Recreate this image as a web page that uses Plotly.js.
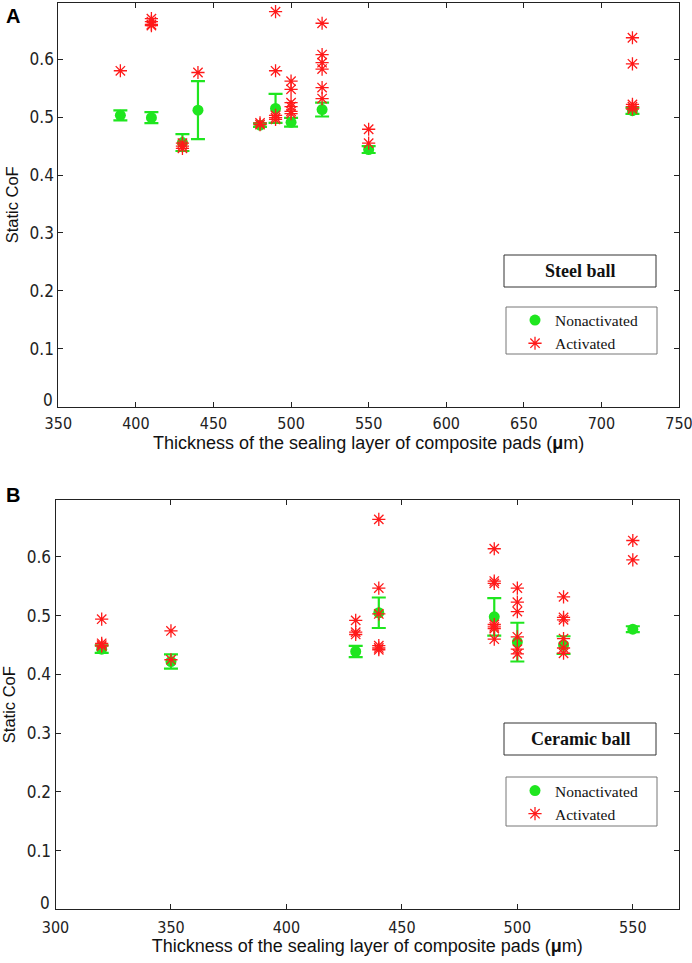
<!DOCTYPE html>
<html>
<head>
<meta charset="utf-8">
<script src="https://cdn.plot.ly/plotly-3.0.1.min.js"></script>
<style>html,body{margin:0;padding:0;background:#fff;}#chart{width:692px;height:963px;}</style>
</head>
<body>
<div id="chart"></div>
<script>
// ---------- Panel A: Steel ball ----------
const steelNonX   = [390, 410, 430, 440, 480, 490, 500, 520, 550, 720];
const steelNonY   = [0.503, 0.499, 0.456, 0.512, 0.486, 0.515, 0.491, 0.513, 0.444, 0.511];
const steelNonErr = [0.0085, 0.0095, 0.0145, 0.050, 0.003, 0.025, 0.0075, 0.012, 0.006, 0.0055];

const steelActX = [390,
  410, 410, 410, 410,
  430, 430, 430,
  440,
  480, 480,
  490, 490, 490, 490, 490,
  500, 500, 500, 500, 500, 500,
  520, 520, 520, 520, 520, 520,
  550, 550,
  720, 720, 720, 720, 720];
const steelActY = [0.580,
  0.670, 0.665, 0.660, 0.658,
  0.455, 0.450, 0.446,
  0.577,
  0.490, 0.487,
  0.682, 0.580, 0.503, 0.499, 0.496,
  0.562, 0.548, 0.525, 0.518, 0.510, 0.506,
  0.662, 0.608, 0.594, 0.583, 0.551, 0.532,
  0.479, 0.455,
  0.637, 0.592, 0.522, 0.518, 0.514];

// ---------- Panel B: Ceramic ball ----------
const ceramNonX   = [320, 350, 430, 440, 490, 500, 520, 550];
const ceramNonY   = [0.443, 0.422, 0.439, 0.505, 0.498, 0.455, 0.450, 0.477];
const ceramNonErr = [0.0065, 0.012, 0.0095, 0.026, 0.032, 0.033, 0.015, 0.005];

const ceramActX = [320, 320, 320, 320,
  350, 350,
  430, 430, 430,
  440, 440, 440, 440, 440, 440,
  490, 490, 490, 490, 490, 490, 490,
  500, 500, 500, 500, 500, 500,
  520, 520, 520, 520, 520, 520,
  550, 550];
const ceramActY = [0.494, 0.453, 0.450, 0.448,
  0.474, 0.425,
  0.492, 0.472, 0.468,
  0.664, 0.547, 0.503, 0.449, 0.445, 0.442,
  0.614, 0.559, 0.555, 0.485, 0.481, 0.478, 0.460,
  0.547, 0.523, 0.507, 0.464, 0.443, 0.435,
  0.532, 0.497, 0.493, 0.461, 0.445, 0.436,
  0.628, 0.595];

const yTicks = [0, 0.1, 0.2, 0.3, 0.4, 0.5, 0.6];
const yTickText = ['', '0.1', '0.2', '0.3', '0.4', '0.5', '0.6']; // "0" drawn as a raised label, as in the original
const xTicksA = [350, 400, 450, 500, 550, 600, 650, 700, 750];
const xTicksB = [300, 350, 400, 450, 500, 550];
const xTitle = 'Thickness of the sealing layer of composite pads (<b>μ</b>m)';

const W = 692, H = 963;
const px = v => v / W;
const py = v => 1 - v / H;

const GREEN = '#1fe61f';
const RED = '#ff1a1a';

function nonTrace(x, y, e, xa, ya, lg) {
  return {
    type: 'scatter', mode: 'markers', x: x, y: y, xaxis: xa, yaxis: ya,
    name: 'Nonactivated', legend: lg, showlegend: true,
    marker: {symbol: 'circle', size: 11, color: GREEN},
    error_y: {type: 'data', array: e, visible: true, color: GREEN, thickness: 2.2, width: 7}
  };
}
function actTrace(x, y, xa, ya, lg) {
  return {
    type: 'scatter', mode: 'markers', x: x, y: y, xaxis: xa, yaxis: ya,
    name: 'Activated', legend: lg, showlegend: true,
    marker: {symbol: 'asterisk-open', size: 11, color: RED, line: {color: RED, width: 1.3}}
  };
}

const data = [
  nonTrace(steelNonX, steelNonY, steelNonErr, 'x', 'y', 'legend'),
  actTrace(steelActX, steelActY, 'x', 'y', 'legend'),
  nonTrace(ceramNonX, ceramNonY, ceramNonErr, 'x2', 'y2', 'legend2'),
  actTrace(ceramActX, ceramActY, 'x2', 'y2', 'legend2')
];

const NARROW = '"Liberation Sans Narrow", "DejaVu Sans Condensed", Arial, sans-serif';
const yTickFont = {family: NARROW, size: 17, color: '#222'};
const xTickFont = {family: NARROW, size: 16, color: '#222'};
const xTitleFont = {family: 'Arial, "Liberation Sans", sans-serif', size: 18, color: '#111'};
const yTitleFont = {family: 'Arial, "Liberation Sans", sans-serif', size: 16.5, color: '#111'};

function xaxis(domain, range, ticks, anchor, lblStandoff, titleStandoff) {
  return {
    domain: domain, range: range, anchor: anchor,
    tickmode: 'array', tickvals: ticks, ticktext: ticks.map(String),
    ticks: 'inside', ticklen: 5, tickcolor: '#222', tickwidth: 1,
    showline: true, linecolor: '#222', linewidth: 1, mirror: 'ticks',
    showgrid: false, zeroline: false, tickfont: xTickFont,
    ticklabelstandoff: lblStandoff, ticklabeloverflow: 'allow',
    title: {text: xTitle, font: xTitleFont, standoff: titleStandoff}
  };
}
function yaxis(domain, anchor) {
  return {
    domain: domain, range: [0, 0.697], anchor: anchor,
    tickmode: 'array', tickvals: yTicks, ticktext: yTickText,
    ticks: 'inside', ticklen: 5, tickcolor: '#222', tickwidth: 1,
    showline: true, linecolor: '#222', linewidth: 1, mirror: 'ticks',
    showgrid: false, zeroline: false, tickfont: yTickFont, ticklabeloverflow: 'allow',
    title: {text: 'Static CoF', font: yTitleFont, standoff: 6}
  };
}

const legendCommon = {
  xanchor: 'left', yanchor: 'top', bgcolor: 'rgba(0,0,0,0)', borderwidth: 0,
  font: {family: '"Liberation Serif", "Times New Roman", serif', size: 15.5, color: '#111'},
  itemwidth: 30, tracegroupgap: 0
};

const boxLine = {color: '#333', width: 1};
const legLine = {color: '#777', width: 1};
const boxFont = {family: '"Liberation Serif", "Times New Roman", serif', size: 18, color: '#111'};

const layout = {
  width: W, height: H,
  margin: {l: 0, r: 0, t: 0, b: 0},
  paper_bgcolor: '#fff', plot_bgcolor: '#fff',
  showlegend: true,
  xaxis: xaxis([px(58.3), px(679)], [350, 750], xTicksA, 'y', 2, 0),
  yaxis: yaxis([py(406.7), py(3)], 'x'),
  xaxis2: xaxis([px(55.5), px(679)], [300, 570], xTicksB, 'y2', 3, 3),
  yaxis2: yaxis([py(909.3), py(500)], 'x2'),
  legend: Object.assign({x: px(515), y: py(303.5)}, legendCommon),
  legend2: Object.assign({x: px(515), y: py(774)}, legendCommon),
  shapes: [
    {type: 'rect', xref: 'paper', yref: 'paper', x0: px(504), x1: px(656), y0: py(255), y1: py(287), line: boxLine, fillcolor: '#fff', layer: 'below'},
    {type: 'rect', xref: 'paper', yref: 'paper', x0: px(506), x1: px(657), y0: py(307), y1: py(354), line: legLine, fillcolor: '#fff', layer: 'below'},
    {type: 'rect', xref: 'paper', yref: 'paper', x0: px(504), x1: px(656), y0: py(723), y1: py(755), line: boxLine, fillcolor: '#fff', layer: 'below'},
    {type: 'rect', xref: 'paper', yref: 'paper', x0: px(506), x1: px(657), y0: py(777), y1: py(826), line: legLine, fillcolor: '#fff', layer: 'below'}
  ],
  annotations: [
    {text: '<b>Steel ball</b>', xref: 'paper', yref: 'paper', x: px(580), y: py(271), showarrow: false, xanchor: 'center', yanchor: 'middle', font: boxFont},
    {text: '<b>Ceramic ball</b>', xref: 'paper', yref: 'paper', x: px(580), y: py(739), showarrow: false, xanchor: 'center', yanchor: 'middle', font: boxFont},
    {text: '0', xref: 'paper', yref: 'paper', x: px(54), y: py(400), showarrow: false, xanchor: 'right', yanchor: 'middle',
     font: yTickFont, borderpad: 0},
    {text: '0', xref: 'paper', yref: 'paper', x: px(51), y: py(903), showarrow: false, xanchor: 'right', yanchor: 'middle',
     font: yTickFont, borderpad: 0},
    {text: '<b>A</b>', xref: 'paper', yref: 'paper', x: px(4), y: py(16), showarrow: false, xanchor: 'left', yanchor: 'middle',
     font: {family: 'Arial, "Liberation Sans", sans-serif', size: 20, color: '#000'}},
    {text: '<b>B</b>', xref: 'paper', yref: 'paper', x: px(4), y: py(495), showarrow: false, xanchor: 'left', yanchor: 'middle',
     font: {family: 'Arial, "Liberation Sans", sans-serif', size: 20, color: '#000'}}
  ]
};

Plotly.newPlot('chart', data, layout, {staticPlot: true, displayModeBar: false});
</script>
</body>
</html>
